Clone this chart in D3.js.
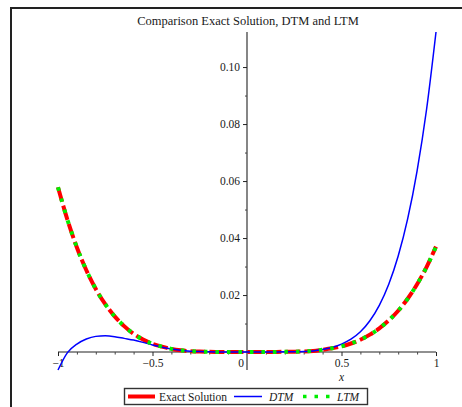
<!DOCTYPE html>
<html>
<head>
<meta charset="utf-8">
<script src="https://cdn.jsdelivr.net/npm/d3@7"></script>
<style>
  html, body { margin: 0; padding: 0; background: #fff; }
  svg { display: block; }
  text { font-family: "Liberation Serif", "DejaVu Serif", serif; fill: #1a1a1a; }
</style>
</head>
<body>
<svg id="chart" width="462" height="407"></svg>
<script>
// ---- data ----
const title = "Comparison Exact Solution, DTM and LTM";
const xValues = [-1, -0.95, -0.9, -0.85, -0.8, -0.75, -0.7, -0.65, -0.6, -0.55, -0.5, -0.45, -0.4, -0.35, -0.3, -0.25, -0.2, -0.1, 0,
                 0.1, 0.2, 0.25, 0.3, 0.35, 0.4, 0.45, 0.5, 0.55, 0.6, 0.65, 0.7, 0.75, 0.8, 0.85, 0.9, 0.95, 1];
const exactValues = [0.0578, 0.0464, 0.0367, 0.0287, 0.0221, 0.0168, 0.0125, 0.0091, 0.0064, 0.0044, 0.0029, 0.0019, 0.0011, 0.0006, 0.0003, 0.00015, 0.0001, 0, 0,
                     0, 0.0001, 0.00012, 0.0002, 0.0004, 0.0008, 0.0013, 0.0020, 0.0030, 0.0043, 0.0061, 0.0083, 0.0111, 0.0145, 0.0187, 0.0238, 0.0298, 0.0370];
const dtmValues = [-0.0063, -0.0002, 0.0028, 0.0046, 0.0055, 0.0057, 0.0054, 0.0048, 0.0042, 0.0034, 0.0025, 0.0017, 0.0011, 0.0006, 0.0003, 0.00015, 0.0001, 0, 0,
                   0, 0.0001, 0.00012, 0.0002, 0.0004, 0.0009, 0.0016, 0.0028, 0.0045, 0.0071, 0.0110, 0.0164, 0.0238, 0.0337, 0.0467, 0.0636, 0.0851, 0.1123];
const ltmValues = exactValues.slice();
const xMajorTicks = [-1, -0.5, 0, 0.5, 1];
const xTickLabels = ["\u22121", "\u22120.5", "0", "0.5", "1"];
const xMinorTicks = [-0.9, -0.8, -0.7, -0.6, -0.4, -0.3, -0.2, -0.1, 0.1, 0.2, 0.3, 0.4, 0.6, 0.7, 0.8, 0.9];
const yMajorTicks = [0.02, 0.04, 0.06, 0.08, 0.10];
const yMinorTicks = [0.01, 0.03, 0.05, 0.07, 0.09];
const legendLabels = ["Exact Solution", "DTM", "LTM"];

// ---- drawing ----
const svg = d3.select("#chart");
const x = d3.scaleLinear().domain([-1, 1]).range([58, 436]);
const y = d3.scaleLinear().domain([-0.0063, 0.1123]).range([370, 32]);
const y0 = y(0), xz = x(0);

// frame
svg.append("line").attr("x1", 11).attr("y1", 8).attr("x2", 462).attr("y2", 8)
  .attr("stroke", "#222").attr("stroke-width", 2);
svg.append("line").attr("x1", 11).attr("y1", 7).attr("x2", 11).attr("y2", 407)
  .attr("stroke", "#222").attr("stroke-width", 2);

// title
svg.append("text").attr("x", 248).attr("y", 25).attr("text-anchor", "middle")
  .attr("font-size", 12.5).text(title);

// y axis
svg.append("line").attr("x1", xz).attr("x2", xz).attr("y1", y.range()[1]).attr("y2", y.range()[0])
  .attr("stroke", "#222").attr("stroke-width", 1.1);
const yAxis = d3.axisLeft(y).tickValues(yMajorTicks).tickFormat(d3.format(".2f")).tickSize(4).tickPadding(3);
const gy = svg.append("g").attr("transform", `translate(${xz},0)`).call(yAxis);
gy.select(".domain").remove();
gy.selectAll("text").attr("font-size", 11.5).attr("font-family", "Liberation Serif").attr("fill", "#1a1a1a");
gy.selectAll("line").attr("stroke", "#222");
const yMinor = d3.axisLeft(y).tickValues(yMinorTicks).tickFormat("").tickSize(2);
const gym = svg.append("g").attr("transform", `translate(${xz},0)`).call(yMinor);
gym.select(".domain").remove();
gym.selectAll("line").attr("stroke", "#444");

// x axis
svg.append("line").attr("x1", x(-1)).attr("x2", x(1)).attr("y1", y0).attr("y2", y0)
  .attr("stroke", "#222").attr("stroke-width", 1.1);
const xAxis = d3.axisBottom(x).tickValues(xMajorTicks.filter(d => d !== 0)).tickFormat(d => xTickLabels[xMajorTicks.indexOf(d)]).tickSize(4).tickPadding(3);
const gx = svg.append("g").attr("transform", `translate(0,${y0})`).call(xAxis);
gx.select(".domain").remove();
gx.selectAll("text").attr("font-size", 11.5).attr("font-family", "Liberation Serif").attr("fill", "#1a1a1a");
gx.selectAll("line").attr("stroke", "#222");
const xMinor = d3.axisBottom(x).tickValues(xMinorTicks).tickFormat("").tickSize(2.5);
const gxm = svg.append("g").attr("transform", `translate(0,${y0})`).call(xMinor);
gxm.select(".domain").remove();
gxm.selectAll("line").attr("stroke", "#444");
// "0" label placed left of the y axis
svg.append("text").attr("x", xz - 6).attr("y", y0 + 15).attr("text-anchor", "middle")
  .attr("font-size", 11.5).text(xTickLabels[xMajorTicks.indexOf(0)]);
// x axis title
svg.append("text").attr("x", x(0.5)).attr("y", 381).attr("text-anchor", "middle")
  .attr("font-size", 11.5).attr("font-style", "italic").text("x");

// curves
const pts = vals => xValues.map((d, i) => [d, vals[i]]);
const line = d3.line().x(d => x(d[0])).y(d => y(d[1])).curve(d3.curveMonotoneX);
svg.append("path").attr("d", line(pts(exactValues))).attr("fill", "none")
  .attr("stroke", "#ff0000").attr("stroke-width", 4).attr("stroke-dasharray", "15,4");
svg.append("path").attr("d", line(pts(dtmValues))).attr("fill", "none")
  .attr("stroke", "#0000ff").attr("stroke-width", 1.5);
svg.append("path").attr("d", line(pts(ltmValues))).attr("fill", "none")
  .attr("stroke", "#00ee00").attr("stroke-width", 4).attr("stroke-dasharray", "3.5,8");

// legend
const lg = svg.append("g");
lg.append("rect").attr("x", 124.5).attr("y", 388.5).attr("width", 243).attr("height", 16)
  .attr("fill", "#fff").attr("stroke", "#333").attr("stroke-width", 1.4);
const ly = 396.5;
lg.append("line").attr("x1", 128).attr("x2", 155).attr("y1", ly).attr("y2", ly)
  .attr("stroke", "#ff0000").attr("stroke-width", 4);
lg.append("text").attr("x", 159).attr("y", ly + 4).attr("font-size", 11.5).text(legendLabels[0]);
lg.append("line").attr("x1", 234).attr("x2", 262).attr("y1", ly).attr("y2", ly)
  .attr("stroke", "#0000ff").attr("stroke-width", 1.5);
lg.append("text").attr("x", 269).attr("y", ly + 4).attr("font-size", 11.5).attr("font-style", "italic").text(legendLabels[1]);
lg.append("line").attr("x1", 303).attr("x2", 333).attr("y1", ly).attr("y2", ly)
  .attr("stroke", "#00ee00").attr("stroke-width", 3.5).attr("stroke-dasharray", "3.5,8");
lg.append("text").attr("x", 337).attr("y", ly + 4).attr("font-size", 11.5).attr("font-style", "italic").text(legendLabels[2]);
</script>
</body>
</html>
